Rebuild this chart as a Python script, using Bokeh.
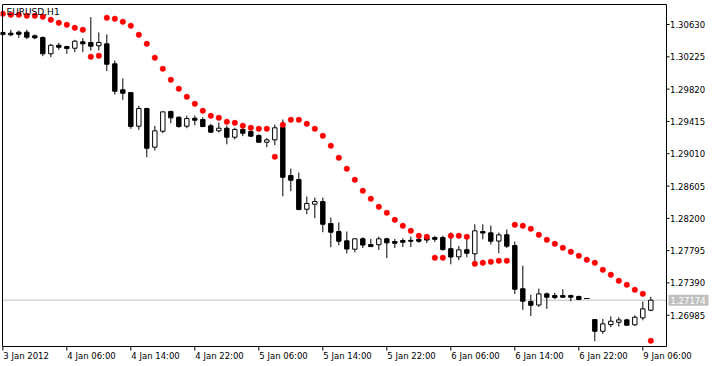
from bokeh.plotting import figure
from bokeh.models import Range1d, Label
from bokeh.core.properties import value
from bokeh.embed import file_html
from bokeh.resources import INLINE

symbol = "EURUSD,H1"

opens = [1.30530, 1.30521, 1.30534, 1.30534, 1.30488, 1.30467, 1.30263, 1.30370, 1.30354, 1.30333,
         1.30413, 1.30404, 1.30363, 1.30388, 1.30137, 1.29811, 1.29777, 1.29355, 1.29577, 1.29092,
         1.29292, 1.29539, 1.29468, 1.29355, 1.29455, 1.29439, 1.29360, 1.29297, 1.29330, 1.29217,
         1.29314, 1.29288, 1.29238, 1.29154, 1.29184, 1.29342, 1.28737, 1.28687, 1.28314, 1.28377,
         1.28411, 1.28135, 1.28035, 1.27918, 1.27813, 1.27943, 1.27871, 1.27869, 1.27943, 1.27909,
         1.27922, 1.27924, 1.27937, 1.27959, 1.27959, 1.27959, 1.27819, 1.27717, 1.27806, 1.27755,
         1.28035, 1.28018, 1.27915, 1.27994, 1.27859, 1.27317, 1.27157, 1.27113, 1.27253, 1.27232,
         1.27232, 1.27232, 1.27220, 1.27195, 1.26931, 1.26784, 1.26868, 1.26897, 1.26927, 1.26865,
         1.26952, 1.27048]
highs = [1.30542, 1.30564, 1.30555, 1.30564, 1.30505, 1.30480, 1.30388, 1.30401, 1.30363, 1.30438,
         1.30458, 1.30722, 1.30530, 1.30505, 1.30179, 1.29953, 1.29777, 1.29611, 1.29586, 1.29360,
         1.29535, 1.29552, 1.29476, 1.29489, 1.29489, 1.29468, 1.29385, 1.29401, 1.29364, 1.29335,
         1.29385, 1.29310, 1.29255, 1.29209, 1.29376, 1.29439, 1.28824, 1.28774, 1.28473, 1.28461,
         1.28461, 1.28210, 1.28147, 1.28035, 1.27947, 1.27963, 1.27943, 1.27972, 1.27956, 1.27943,
         1.27949, 1.27972, 1.27963, 1.27997, 1.27981, 1.27982, 1.28022, 1.27855, 1.27991, 1.28126,
         1.28125, 1.28110, 1.28022, 1.28060, 1.27909, 1.27606, 1.27242, 1.27320, 1.27270, 1.27266,
         1.27311, 1.27245, 1.27232, 1.27195, 1.26931, 1.26940, 1.26972, 1.26960, 1.26940, 1.26985,
         1.27157, 1.27216]
lows = [1.30492, 1.30483, 1.30463, 1.30446, 1.30446, 1.30233, 1.30220, 1.30313, 1.30263, 1.30283,
        1.30283, 1.30304, 1.30304, 1.30045, 1.29752, 1.29686, 1.29322, 1.29310, 1.28966, 1.29050,
        1.29267, 1.29392, 1.29335, 1.29330, 1.29367, 1.29342, 1.29271, 1.29276, 1.29129, 1.29188,
        1.29230, 1.29222, 1.29150, 1.29092, 1.29117, 1.28477, 1.28540, 1.28302, 1.28251, 1.28201,
        1.28026, 1.27838, 1.27863, 1.27759, 1.27775, 1.27828, 1.27840, 1.27803, 1.27702, 1.27828,
        1.27840, 1.27840, 1.27893, 1.27890, 1.27905, 1.27793, 1.27624, 1.27675, 1.27712, 1.27658,
        1.27937, 1.27871, 1.27762, 1.27828, 1.27251, 1.27053, 1.26975, 1.27090, 1.27065, 1.27186,
        1.27204, 1.27161, 1.27178, 1.27195, 1.26659, 1.26752, 1.26835, 1.26843, 1.26852, 1.26852,
        1.26922, 1.27035]
closes = [1.30505, 1.30501, 1.30508, 1.30471, 1.30463, 1.30263, 1.30370, 1.30345, 1.30329, 1.30421,
          1.30388, 1.30358, 1.30404, 1.30132, 1.29794, 1.29769, 1.29351, 1.29577, 1.29079, 1.29297,
          1.29535, 1.29460, 1.29351, 1.29451, 1.29430, 1.29351, 1.29280, 1.29330, 1.29217, 1.29314,
          1.29267, 1.29230, 1.29154, 1.29184, 1.29335, 1.28715, 1.28678, 1.28310, 1.28386, 1.28411,
          1.28126, 1.28026, 1.27913, 1.27815, 1.27943, 1.27865, 1.27846, 1.27943, 1.27893, 1.27887,
          1.27900, 1.27913, 1.27913, 1.27928, 1.27937, 1.27809, 1.27715, 1.27805, 1.27762, 1.28043,
          1.28016, 1.27913, 1.27993, 1.27851, 1.27311, 1.27161, 1.27110, 1.27253, 1.27211, 1.27207,
          1.27211, 1.27211, 1.27182, 1.27195, 1.26784, 1.26877, 1.26910, 1.26927, 1.26860, 1.26960,
          1.27065, 1.27174]
dots = [1.30764, 1.30752, 1.30752, 1.30739, 1.30739, 1.30727, 1.30689, 1.30651, 1.30626, 1.30589,
        1.30564, 1.30225, 1.30238, 1.30714, 1.30702, 1.30664, 1.30614, 1.30501, 1.30388, 1.30213,
        1.30075, 1.29937, 1.29824, 1.29723, 1.29636, 1.29548, 1.29485, 1.29460, 1.29410, 1.29397,
        1.29360, 1.29335, 1.29322, 1.29322, 1.28971, 1.29372, 1.29435, 1.29435, 1.29385, 1.29322,
        1.29234, 1.29109, 1.28959, 1.28821, 1.28683, 1.28545, 1.28445, 1.28344, 1.28269, 1.28181,
        1.28106, 1.28043, 1.27981, 1.27968, 1.27705, 1.27705, 1.27981, 1.27981, 1.27968, 1.27629,
        1.27642, 1.27655, 1.27667, 1.27667, 1.28118, 1.28106, 1.28068, 1.27993, 1.27930, 1.27880,
        1.27830, 1.27780, 1.27730, 1.27680, 1.27642, 1.27554, 1.27492, 1.27416, 1.27366, 1.27303,
        1.27253, 1.26664]

time_tick_bars = [0, 8, 16, 24, 32, 40, 48, 56, 64, 72, 80]
time_tick_labels = ["3 Jan 2012", "4 Jan 06:00", "4 Jan 14:00", "4 Jan 22:00", "5 Jan 06:00",
                    "5 Jan 14:00", "5 Jan 22:00", "6 Jan 06:00", "6 Jan 14:00", "6 Jan 22:00",
                    "9 Jan 06:00"]
price_ticks = [1.30630, 1.30225, 1.29820, 1.29415, 1.29010, 1.28605, 1.28200, 1.27795,
               1.27390, 1.26985]
last_price = 1.27174
price_lo, price_hi = 1.26593, 1.30881

FONT = "DejaVu Sans"
FS = "8.5px"

# ---- layout (pixels) ----
W, H = 712, 364
left_pad, top_pad = 2, 4
area_w, area_h = 664, 342
right_pad = W - left_pad - area_w
bottom_pad = H - top_pad - area_h

n = len(opens)
idx = list(range(n))
x_lo, x_hi = -0.04, n + 0.96
bpp = (x_hi - x_lo) / area_w          # bars per pixel
ppp = (price_hi - price_lo) / area_h  # price per pixel

p = figure(width=W, height=H, output_backend="svg", toolbar_location=None,
           x_axis_location=None, y_axis_location=None,
           x_range=Range1d(x_lo - left_pad * bpp, x_hi + right_pad * bpp),
           y_range=Range1d(price_lo - bottom_pad * ppp, price_hi + top_pad * ppp),
           min_border=0)
p.outline_line_color = None
p.background_fill_color = "white"
p.border_fill_color = "white"
p.xgrid.visible = False
p.ygrid.visible = False

# current price line
p.segment(x0=[x_lo], y0=[last_price], x1=[x_hi], y1=[last_price],
          line_color="#C0C0C0", line_width=1)

bull = [i for i in idx if closes[i] > opens[i]]
bear = [i for i in idx if closes[i] < opens[i]]
doji = [i for i in idx if closes[i] == opens[i]]

# wicks
p.segment(x0=idx, y0=lows, x1=idx, y1=highs, line_color="black", line_width=1)
# bodies
p.vbar(x=bear, top=[opens[i] for i in bear], bottom=[closes[i] for i in bear], width=0.55,
       fill_color="black", line_color="black", line_width=1)
p.vbar(x=bull, top=[closes[i] for i in bull], bottom=[opens[i] for i in bull], width=0.55,
       fill_color="white", line_color="black", line_width=1)
if doji:
    p.segment(x0=[i - 0.35 for i in doji], y0=[opens[i] for i in doji],
              x1=[i + 0.35 for i in doji], y1=[closes[i] for i in doji],
              line_color="black", line_width=1)

# indicator dots
p.scatter(x=idx, y=dots, size=5.5, fill_color="#FF0000", line_color="#FF0000", line_width=0.5)

# chart border / axis lines
p.segment(x0=[x_lo, x_lo, x_hi, x_lo], y0=[price_lo, price_hi, price_lo, price_lo],
          x1=[x_lo, x_hi, x_hi, x_hi], y1=[price_hi, price_hi, price_hi, price_lo],
          line_color="black", line_width=1)

# price scale (right)
p.segment(x0=[x_hi] * len(price_ticks), y0=price_ticks,
          x1=[x_hi + 3 * bpp] * len(price_ticks), y1=price_ticks,
          line_color="black", line_width=1)
p.text(x=[x_hi + 3.5 * bpp] * len(price_ticks), y=price_ticks,
       text=[f"{v:.5f}" for v in price_ticks],
       text_align="left", text_baseline="middle", text_font=value(FONT),
       text_font_size=value(FS), text_color="black")

# time scale (bottom)
p.segment(x0=time_tick_bars, y0=[price_lo] * len(time_tick_bars),
          x1=time_tick_bars, y1=[price_lo - 4 * ppp] * len(time_tick_bars),
          line_color="black", line_width=1)
p.text(x=[b + 0.5 * bpp for b in time_tick_bars], y=[price_lo - 4 * ppp] * len(time_tick_bars),
       text=time_tick_labels, text_align="left", text_baseline="top",
       text_font=value(FONT), text_font_size=value(FS), text_color="black")

# last price marker
p.rect(x=[x_hi + 22 * bpp], y=[last_price], width=[40 * bpp], height=[11 * ppp],
       fill_color="#C0C0C0", line_color=None)
p.text(x=[x_hi + 4 * bpp], y=[last_price], text=[f"{last_price:.5f}"],
       text_align="left", text_baseline="middle", text_font=value(FONT),
       text_font_size=value(FS), text_color="white")

# symbol title
p.add_layout(Label(x=x_lo, y=price_hi, text=symbol, text_align="left", text_baseline="top",
                   x_offset=4, y_offset=-2, text_font=FONT, text_font_size="9px",
                   text_color="black"))

open("out.html", "w").write(file_html(p, INLINE))
